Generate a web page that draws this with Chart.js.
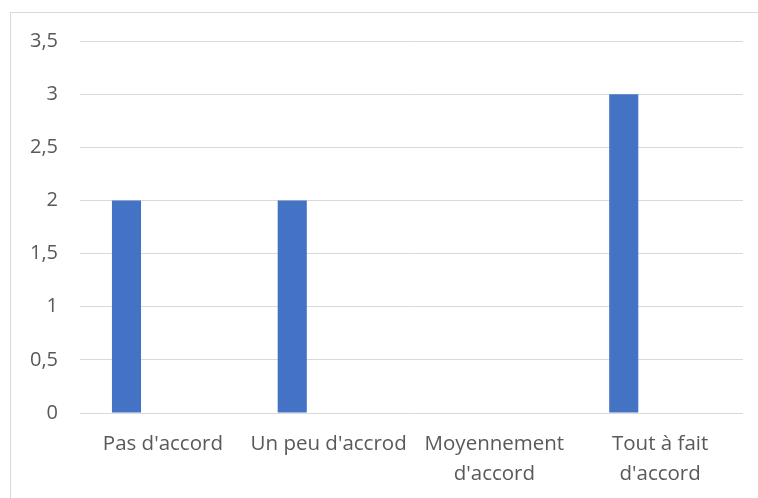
<!DOCTYPE html>
<html>
<head>
<meta charset="utf-8">
<script src="https://cdn.jsdelivr.net/npm/chart.js@4"></script>
<style>
  body { margin: 0; width: 758px; height: 498px; overflow: hidden; background: #fff; position: relative; }
  .frame { position: absolute; left: 10px; top: 12px; width: 800px; height: 600px; border: 1.5px solid #d9d9d9; }
  .wrap { position: absolute; left: 0; top: 0; width: 758px; height: 498px; }
</style>
</head>
<body>
<div class="frame"></div>
<div class="wrap"><canvas id="chart" width="758" height="498"></canvas></div>
<script>
// Données
const categories = ["Pas d'accord", "Un peu d'accrod", ["Moyennement", "d'accord"], ["Tout à fait", "d'accord"]];
const series1 = [2, 2, 0, 3];
const series2 = [0, 0, 0, 0];
const yTickLabels = ["0", "0,5", "1", "1,5", "2", "2,5", "3", "3,5"];

const ctx = document.getElementById("chart").getContext("2d");
const myChart = new Chart(ctx, {
  type: "bar",
  data: {
    labels: categories,
    datasets: [
      {
        label: "Série 1",
        data: series1,
        backgroundColor: "#4472C4",
        categoryPercentage: 0.878,
        barPercentage: 0.4,
      },
      {
        label: "Série 2",
        data: series2,
        backgroundColor: "#ED7D31",
        categoryPercentage: 0.878,
        barPercentage: 0.4,
      },
    ],
  },
  options: {
    responsive: false,
    animation: false,
    layout: {
      padding: { left: 0, right: 15, top: 41, bottom: 0 },
    },
    plugins: {
      legend: { display: false },
      tooltip: { enabled: false },
    },
    scales: {
      x: {
        grid: { display: false, drawTicks: false },
        border: { display: false },
        ticks: {
          color: "#595959",
          font: { family: "Open Sans", size: 20.5, lineHeight: 1.42 },
          padding: 17,
          maxRotation: 0,
          autoSkip: false,
        },
        afterFit: (scale) => {
          scale.height = 85;
        },
      },
      y: {
        min: 0,
        max: 3.5,
        grid: { color: "#d9d9d9", lineWidth: 1, drawTicks: false },
        border: { display: false },
        ticks: {
          stepSize: 0.5,
          color: "#595959",
          font: { family: "Open Sans", size: 20 },
          padding: 22,
          callback: function (value, index) {
            return yTickLabels[index];
          },
        },
        afterFit: (scale) => {
          scale.width = 80;
        },
      },
    },
  },
});
</script>
</body>
</html>
